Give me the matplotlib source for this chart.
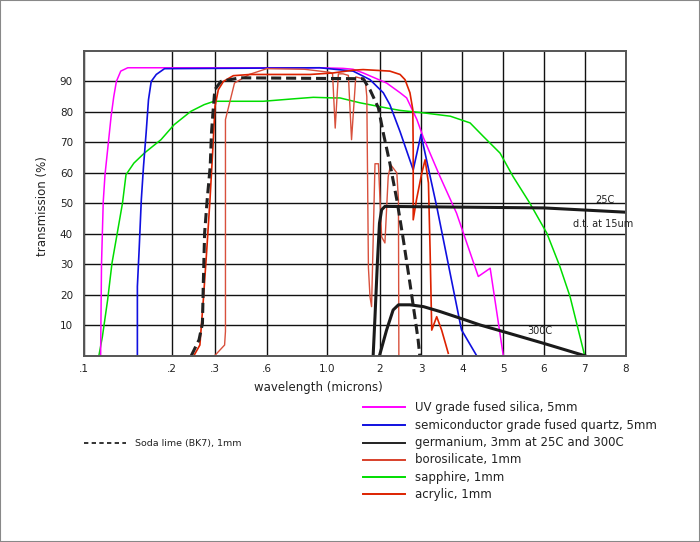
import numpy as np
import matplotlib
matplotlib.use("Agg")
import matplotlib.pyplot as plt
from matplotlib.lines import Line2D
from matplotlib.patches import Rectangle

# hand-drawn wavelength axis: tick values and where they sit (px from left of plot)
tick_vals = [0.1, 0.2, 0.3, 0.6, 1.0, 2, 3, 4, 5, 6, 7, 8]
tick_labels = ['.1', '.2', '.3', '.6', '1.0', '2', '3', '4', '5', '6', '7', '8']
tick_px = [0, 87.5, 130.5, 182.7, 243.3, 296, 337, 378.3, 419.3, 460, 500.7, 541.5]
y_ticks = [10, 20, 30, 40, 50, 60, 70, 80, 90]

uv_x = [0.119, 0.120, 0.122, 0.124, 0.127, 0.131, 0.134, 0.137, 0.142, 0.150, 0.95, 1.30, 1.49,
        1.68, 2.16, 2.49, 2.65, 2.90, 3.06, 3.46, 3.86, 4.39, 4.68, 5.0]
uv_y = [0, 30, 50.6, 59.4, 67.6, 78.6, 85, 90, 93.4, 94.5, 94.5, 94.3, 94.0,
        92.8, 89.5, 86.3, 84.6, 77.5, 71.5, 58.8, 46.8, 26, 28.7, 0]

quartz_x = [0.161, 0.161, 0.163, 0.1655, 0.168, 0.171, 0.1737, 0.1768, 0.1826, 0.192, 0.95, 1.49,
            1.81, 2.08, 2.24, 2.49, 2.81, 3.0, 3.38, 3.98, 4.35]
quartz_y = [0, 22.7, 34.7, 51.2, 62.1, 73.1, 84, 90, 92.3, 94.2, 94.5, 93.4,
            90.6, 86.3, 82.4, 73.5, 61, 72.6, 49, 8.5, 0]

sapph_x = [0.117, 0.121, 0.127, 0.132, 0.138, 0.144, 0.148, 0.157, 0.169, 0.188, 0.206, 0.245,
           0.276, 0.299, 0.58, 0.776, 0.908, 1.11, 1.24, 1.62, 2.16, 2.49, 3.06, 3.71, 4.19,
           4.51, 4.92, 5.24, 5.65, 6.07, 6.39, 6.64, 7.0]
sapph_y = [0, 6.2, 18.3, 30.4, 40.2, 50.1, 59.4, 63.2, 66.5, 70.9, 75.8, 80.2,
           82.4, 83.5, 83.5, 84.3, 84.8, 84.6, 84.6, 83, 81.3, 80.5, 79.7, 78.6, 76.4,
           72, 66.5, 58.8, 50.1, 40.2, 29.3, 19.4, 0]

soda_x = [0.246, 0.264, 0.272, 0.274, 0.277, 0.283, 0.290, 0.293, 0.297, 0.302, 0.336, 0.446,
          1.68, 1.81, 1.97, 2.08, 2.24, 2.41, 2.57, 2.73, 2.85, 2.93, 2.97]
soda_y = [0, 5.2, 10.6, 23.8, 40.2, 51.2, 62.1, 73.1, 80.8, 87.3, 90, 91.2,
          90.9, 87.3, 81.3, 73.1, 63.2, 51.2, 38, 23.8, 12.8, 5.2, 0]

boro_x = [0.252, 0.266, 0.274, 0.282, 0.2895, 0.296, 0.303, 0.322, 0.351, 0.408, 0.504, 0.886,
          1.11, 1.49, 1.68, 2.24, 2.49, 2.61, 2.73, 2.80, 2.81, 2.81, 2.89, 3.02, 3.10,
          3.18, 3.22, 3.26, 3.38, 3.50, 3.66]
boro_y = [0, 3.5, 18.3, 34.7, 51.2, 67.6, 81.9, 87.3, 90, 91.9, 92.3, 92.3,
          92.8, 93.7, 93.9, 93.4, 92.3, 90.6, 86.3, 80.8, 67.6, 44.6, 51.2, 60, 64.3,
          56.7, 34.7, 8.4, 12.8, 8.4, 0.8]

acryl_x = [0.301, 0.358, 0.363, 0.363, 0.415, 0.50, 0.60, 0.85, 1.05, 1.10, 1.15, 1.21, 1.30,
           1.40, 1.46, 1.54, 1.65, 1.72, 1.75, 1.78, 1.81, 1.84, 1.905, 1.97, 2.04, 2.12,
           2.20, 2.26, 2.41, 2.45, 2.46]
acryl_y = [0, 3.5, 8, 77.5, 89.5, 92.3, 94.2, 94.0, 93.0, 92.5, 74.7, 92.5, 92.5,
           92, 70.9, 91.5, 91, 90.5, 85, 29, 19.4, 16.1, 63, 63, 39, 37,
           58.8, 62.7, 60, 51.2, 0]

ge25_x = [1.87, 1.905, 1.95, 1.99, 2.04, 2.12, 6.0, 8.0]
ge25_y = [0, 12.8, 30.4, 43.5, 47.9, 49, 48.5, 47.1]

ge300_x = [1.99, 2.16, 2.32, 2.45, 2.73, 3.06, 3.46, 3.95, 4.43, 5.0, 5.98, 7.0]
ge300_y = [0, 8.4, 15, 16.7, 16.7, 16.1, 14.5, 12.3, 10.1, 7.9, 4.1, 0]

legend_names = ['UV grade fused silica, 5mm', 'semiconductor grade fused quartz, 5mm',
                'germanium, 3mm at 25C and 300C', 'borosilicate, 1mm', 'sapphire, 1mm',
                'acrylic, 1mm']
legend_colors = ['#ff00ff', '#1010e0', '#222222', '#d8402a', '#00dd00', '#dd2200']

W, H = 700, 542
fig = plt.figure(figsize=(7, 5.42), dpi=100)
ax = fig.add_axes([84 / W, 1 - 355.7 / H, 541.5 / W, 304.7 / H])


def fwd(x):
    return np.interp(x, tick_vals, tick_px)


def inv(p):
    return np.interp(p, tick_px, tick_vals)


ax.set_xscale('function', functions=(fwd, inv))
ax.set_xlim(0.1, 8)
ax.set_ylim(0, 100)

ax.plot(sapph_x, sapph_y, color='#00dd00', lw=1.1)
ax.plot(uv_x, uv_y, color='#ff00ff', lw=1.1)
ax.plot(quartz_x, quartz_y, color='#1010e0', lw=1.2)
ax.plot(acryl_x, acryl_y, color='#d8503c', lw=1.0)
ax.plot(boro_x, boro_y, color='#dd2200', lw=1.2)
ax.plot(soda_x, soda_y, color='#222222', lw=2.2, dashes=(3.3, 1.6))
ax.plot(ge25_x, ge25_y, color='#1a1a1a', lw=2.2)
ax.plot(ge300_x, ge300_y, color='#1a1a1a', lw=2.2)

ax.set_xticks(tick_vals)
ax.set_xticklabels(tick_labels)
ax.set_yticks(y_ticks)
ax.tick_params(length=0, labelsize=7.5, colors='#222222')
ax.tick_params(axis='y', pad=8)
ax.tick_params(axis='x', pad=6)
ax.grid(True, color='#111111', lw=1.0)
for s in ax.spines.values():
    s.set_color('#555555')
    s.set_linewidth(1.4)

ax.set_ylabel('transmission (%)', fontsize=8.5, color='#222222')
ax.yaxis.set_label_coords((49.3 - 84) / 541.5, 0.49)
fig.text(318 / W, 1 - 387 / H, 'wavelength (microns)', fontsize=8.5, color='#222222',
         ha='center', va='center')

ax.text(7.5, 49.3, '25C', fontsize=7, color='#222222', ha='center', va='bottom')
fig.text(603 / W, 1 - 224 / H, 'd.t. at 15um', fontsize=7, color='#222222',
         ha='center', va='center')
ax.text(5.9, 6.6, '300C', fontsize=7, color='#222222', ha='center', va='bottom')

# legend drawn by hand in figure pixels
rows = [407.3, 425, 442.7, 460, 477.3, 494.3]
for name, c, yy in zip(legend_names, legend_colors, rows):
    fig.add_artist(Line2D([362.5 / W, 405 / W], [1 - yy / H] * 2, color=c, lw=1.4))
    fig.text(415 / W, 1 - yy / H, name, fontsize=8.5, color='#222222', va='center')
fig.add_artist(Line2D([84 / W, 126 / W], [1 - 443.3 / H] * 2, color='#111111', lw=1.2,
                      dashes=(2.6, 2.0)))
fig.text(135 / W, 1 - 443.3 / H, 'Soda lime (BK7), 1mm', fontsize=6.8, color='#222222',
         va='center')

fig.add_artist(Rectangle((0, 0), 1, 1, transform=fig.transFigure, fill=False,
                         edgecolor='#888888', lw=1.5))

fig.savefig('out.png', dpi=100)
